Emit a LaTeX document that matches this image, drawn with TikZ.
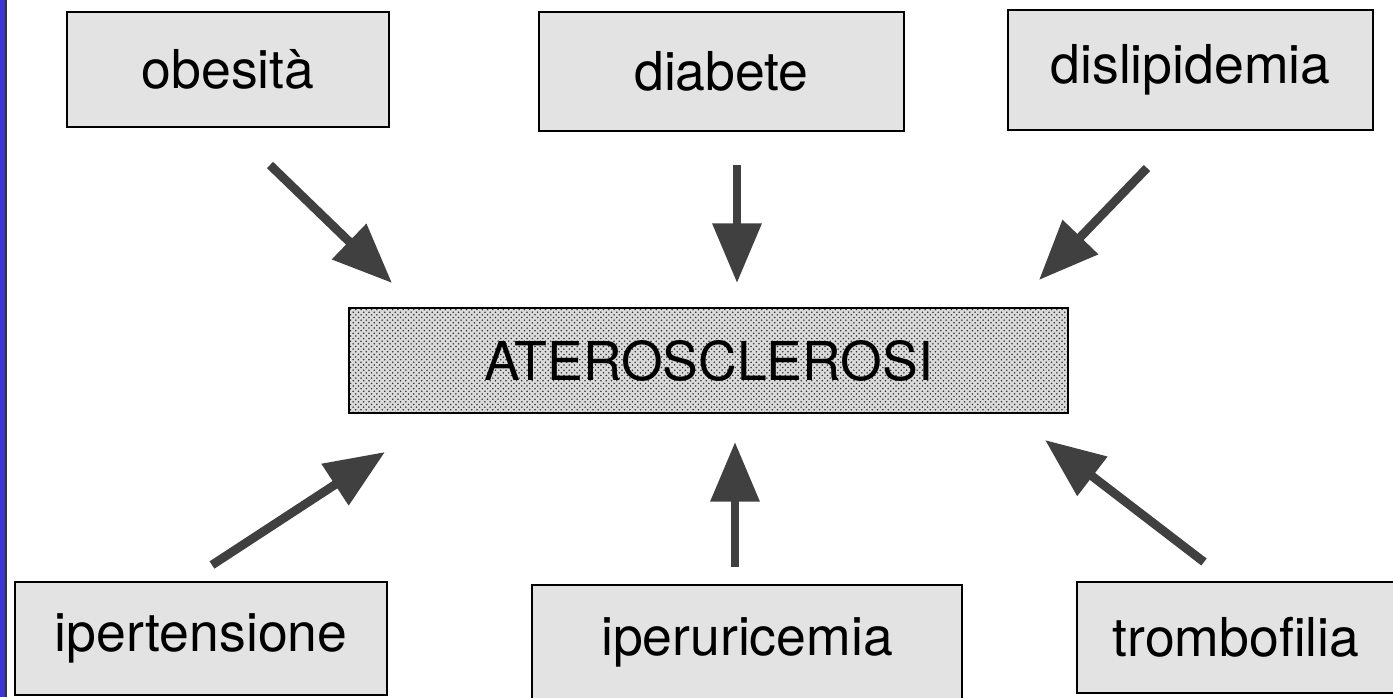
\documentclass[tikz,border=0pt]{standalone}
\usepackage{fontspec}
\setmainfont{TeX Gyre Heros}
\usetikzlibrary{arrows.meta,patterns}
\definecolor{bordoblu}{RGB}{58,52,214}
\definecolor{grigiofreccia}{RGB}{64,64,64}
\tikzset{
    factor/.style={draw=black, line width=1pt, fill=black!11, inner sep=0pt,
        font=\fontsize{30.5}{36}\selectfont},
    central/.style={draw=black, line width=1pt, inner sep=0pt,
        preaction={fill=black!14}, pattern=crosshatch dots, pattern color=black!80,
        font=\fontsize{30.5}{36}\selectfont},
    freccia/.style={line width=5pt, draw=grigiofreccia,
        -{Triangle[width=27pt, length=34pt, fill=grigiofreccia]}}
}
\begin{document}
\begin{tikzpicture}[x=0.02cm, y=-0.02cm]
        \useasboundingbox (0,0) rectangle (1393,697);
        % left blue border
        \fill[bordoblu] (0,0) rectangle (5,697);
        \fill[black!80] (5,0) rectangle (7,697);

        % risk factors
        \node[factor, minimum width=6.44cm, minimum height=2.3cm] (obesita) at (228,69.5) {obesità};
        \node[factor, minimum width=7.3cm, minimum height=2.38cm] (diabete) at (721.5,71.5) {diabete};
        \node[factor, minimum width=7.3cm, minimum height=2.4cm] (dislip) at (1190.5,70) {dislipidemia};
        \node[factor, minimum width=7.44cm, minimum height=2.26cm] (ipert) at (201,638.5) {ipertensione};
        \node[factor, minimum width=8.6cm, minimum height=2.3cm] (iperur) at (747,642.5) {iperuricemia};
        \node[factor, minimum width=6.36cm, minimum height=2.22cm] (trombo) at (1236,637.5) {trombofilia};

        % central disease
        \node[central, minimum width=14.38cm, minimum height=2.1cm] (ateros) at (708.5,360.5) {ATEROSCLEROSI};

        % arrow ends
        \coordinate (obesitaA) at (270,165);
        \coordinate (obesitaB) at (392,283);
        \coordinate (diabeteA) at (737,165);
        \coordinate (diabeteB) at (737,283);
        \coordinate (dislipA) at (1147,168);
        \coordinate (dislipB) at (1039,280);
        \coordinate (ipertA) at (212,565);
        \coordinate (ipertB) at (385,452);
        \coordinate (iperurA) at (735,567);
        \coordinate (iperurB) at (735,442);
        \coordinate (tromboA) at (1204,562);
        \coordinate (tromboB) at (1045,440);

        % arrows
        \foreach \f in {obesita, diabete, dislip, ipert, iperur, trombo}
            \draw[freccia] (\f A) -- (\f B);
\end{tikzpicture}
\end{document}
